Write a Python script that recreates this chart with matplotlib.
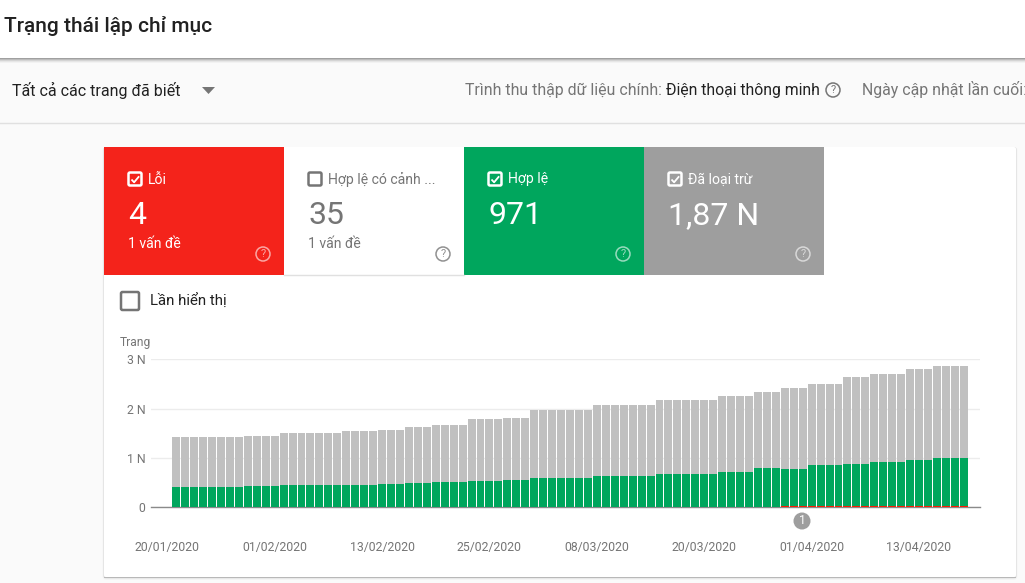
"""Search Console index coverage card, drawn with matplotlib."""
import numpy as np
import matplotlib
matplotlib.use('Agg')
import matplotlib.pyplot as plt
from matplotlib.patches import Rectangle, FancyBboxPatch, Circle, Polygon

plt.rcParams['font.family'] = ['Roboto', 'Noto Sans', 'DejaVu Sans']

# Pages per day
errors = [
    0, 0, 0, 0, 0, 0, 0, 0, 0, 0, 0, 0, 0, 0, 0, 0, 0, 0, 0, 0, 0, 0, 0, 0, 0, 0, 0, 0, 0, 0,
    0, 0, 0, 0, 0, 0, 0, 0, 0, 0, 0, 0, 0, 0, 0, 0, 0, 0, 0, 0, 0, 0, 0, 0, 0, 0, 0, 0, 0, 0,
    0, 0, 0, 0, 0, 0, 0, 0, 25, 25, 25, 25, 25, 25, 25, 25, 25, 25, 25, 25, 25, 25, 25, 25, 25,
    25, 25, 25, 25,
]
valid = [
    420, 420, 420, 420, 420, 420, 420, 420,
    440, 440, 440, 440,
    460, 460, 460, 460, 460, 460, 460,
    460, 460, 460, 460,
    480, 480, 480,
    500, 500, 500,
    520, 520, 520, 520,
    540, 540, 540, 540,
    560, 560, 560,
    600, 600, 600, 600, 600, 600, 600,
    640, 640, 640, 640, 640, 640, 640,
    680, 680, 680, 680, 680, 680, 680,
    720, 720, 720, 720,
    805, 805, 805,
    760, 760, 760,
    840, 840, 840, 840,
    860, 860, 860,
    900, 900, 900, 900,
    940, 940, 940,
    980, 980, 980, 980,
]
excluded = [
    1000, 1000, 1000, 1000, 1000, 1000, 1000, 1000,
    1000, 1000, 1000, 1000,
    1040, 1040, 1040, 1040, 1040, 1040, 1040,
    1080, 1080, 1080, 1080,
    1087, 1087, 1087,
    1120, 1120, 1120,
    1150, 1150, 1150, 1150,
    1244, 1244, 1244, 1244,
    1240, 1240, 1240,
    1373, 1373, 1373, 1373, 1373, 1373, 1373,
    1428, 1428, 1428, 1428, 1428, 1428, 1428,
    1490, 1490, 1490, 1490, 1490, 1490, 1490,
    1537, 1537, 1537, 1537,
    1525, 1525, 1525,
    1625, 1625, 1625,
    1625, 1625, 1625, 1625,
    1750, 1750, 1750,
    1771, 1771, 1771, 1771,
    1831, 1831, 1831,
    1851, 1851, 1851, 1851,
]
date_ticks = [-1, 11, 23, 35, 47, 59, 71, 83]
date_labels = ['20/01/2020', '01/02/2020', '13/02/2020', '25/02/2020',
               '08/03/2020', '20/03/2020', '01/04/2020', '13/04/2020']
y_ticks = [0, 1000, 2000, 3000]
y_labels = ['0', '1 N', '2 N', '3 N']

RED = '#f4231b'
GREEN = '#00a65d'
GREY = '#9e9e9e'
BAR_GREY = '#c0c0c0'
TEXT_GREY = '#757575'
W, H = 1025, 583


def px(size):
    # CSS pixels to points at dpi 100
    return size * 0.72


def help_icon(ax, x, y, color, alpha=1.0, r=7, size=11):
    ax.add_patch(Circle((x, y), r, fill=False, ec=color, lw=1.1, alpha=alpha))
    ax.text(x, y + 0.3, '?', color=color, alpha=alpha, fontsize=px(size),
            ha='center', va='center')


def checkbox(ax, x, y, size, edge, checked=False, lw=1.8):
    ax.add_patch(FancyBboxPatch((x, y), size, size, boxstyle='round,pad=0,rounding_size=1.5',
                                fill=False, ec=edge, lw=lw))
    if checked:
        ax.plot([x + 3, x + 5.6, x + 10.6], [y + 7, y + 9.8, y + 3.8],
                color=edge, lw=1.3, solid_capstyle='butt')


fig = plt.figure(figsize=(W / 100, H / 100), dpi=100, facecolor='#fafafa')

# page furniture, in pixel coordinates
page = fig.add_axes([0, 0, 1, 1])
page.set_xlim(0, W)
page.set_ylim(H, 0)
page.axis('off')

page.add_patch(Rectangle((0, 0), W, 58, fc='white', ec='none'))
for i, c in enumerate(['#a0a0a0', '#bcbcbc', '#d4d4d4', '#e6e6e6', '#f2f2f2']):
    page.add_patch(Rectangle((0, 58 + i), W, 1, fc=c, ec='none'))
page.plot([0, W], [122.5, 122.5], color='#e0e0e0', lw=1)
page.text(4, 26, 'Trạng thái lập chỉ mục', fontsize=px(20.9), fontweight='medium',
          color='#212121', va='center')
page.text(12, 90, 'Tất cả các trang đã biết', fontsize=px(16), color='#212121', va='center')
page.add_patch(Polygon([(202, 87), (215, 87), (208.5, 94)], fc=TEXT_GREY, ec='none'))
page.text(465, 90, 'Trình thu thập dữ liệu chính:', fontsize=px(15.9), color=TEXT_GREY,
          va='center')
page.text(666, 90, 'Điện thoại thông minh', fontsize=px(15.8), color='#212121', va='center')
help_icon(page, 833, 90, TEXT_GREY)
page.text(862, 90, 'Ngày cập nhật lần cuối:', fontsize=px(15.9), color=TEXT_GREY, va='center',
          clip_on=True)

# card with soft shadow
for grow, c in [(2.5, '#f0f0f0'), (1.5, '#e2e2e2')]:
    page.add_patch(FancyBboxPatch((104 - grow / 2, 147), 912 + grow, 430 + grow,
                                  boxstyle='round,pad=0,rounding_size=3', fc=c, ec='none'))
page.add_patch(Rectangle((104, 576.5), 912, 1.2, fc='#b8b8b8', ec='none'))
page.add_patch(FancyBboxPatch((104, 147), 912, 430, boxstyle='round,pad=0,rounding_size=2',
                              fc='white', ec='none'))

# status tiles
tile_x = [104, 284, 464, 644]
tile_bg = [RED, 'white', GREEN, GREY]
tile_fg = ['white', TEXT_GREY, 'white', 'white']
tile_name = ['Lỗi', 'Hợp lệ có cảnh ...', 'Hợp lệ', 'Đã loại trừ']
tile_value = ['4', '35', '971', '1,87 N']
tile_note = ['1 vấn đề', '1 vấn đề', '', '']
tile_checked = [True, False, True, True]
for x0, bg, fg, name, value, note, chk in zip(tile_x, tile_bg, tile_fg, tile_name,
                                              tile_value, tile_note, tile_checked):
    page.add_patch(Rectangle((x0, 147), 180, 128, fc=bg, ec='none'))
    checkbox(page, x0 + 24.5, 172.5, 13, fg, chk)
    page.text(x0 + 44, 179.5, name, fontsize=px(14), color=fg, va='center')
    page.text(x0 + 24, 215.5, value, fontsize=px(32), color=fg, va='center')
    if note:
        page.text(x0 + 24, 243.5, note, fontsize=px(14), color=fg, va='center')
    help_icon(page, x0 + 159, 254, fg, alpha=0.6 if fg == 'white' else 0.8)
page.plot([284, 464], [274.8, 274.8], color='#e0e0e0', lw=1)

checkbox(page, 121, 292, 18, TEXT_GREY, lw=1.8)
page.text(150, 301, 'Lần hiển thị', fontsize=px(15), color='#212121', va='center')
page.text(120, 342.5, 'Trang', fontsize=px(12), color=TEXT_GREY, va='center')

# issue marker under the chart
page.add_patch(Circle((802, 521), 8.5, fc=GREY, ec='none'))
page.text(802, 521, '1', color='white', fontsize=px(12), ha='center', va='center')

# stacked bars
ax = fig.add_axes([151 / W, 1 - 507.3 / H, 829 / W, 148 / H])
ax.patch.set_alpha(0)
days = np.arange(len(valid))
errors = np.array(errors)
valid = np.array(valid)
excluded = np.array(excluded)
ax.bar(days, errors, width=0.89, color='#ff1a00', lw=0, zorder=3)
ax.bar(days, valid, width=0.89, bottom=errors, color=GREEN, lw=0, zorder=3)
ax.bar(days, excluded, width=0.89, bottom=errors + valid, color=BAR_GREY, lw=0, zorder=3)

ax.set_xlim((151 - 176.2) / 8.95, (980 - 176.2) / 8.95)
ax.set_ylim(0, 3000)
ax.set_yticks(y_ticks, y_labels)
ax.set_xticks(date_ticks, date_labels)
ax.tick_params(axis='y', length=0, pad=4, labelsize=px(12.2), labelcolor=TEXT_GREY)
ax.tick_params(axis='x', length=0, pad=24, labelsize=px(12.2), labelcolor=TEXT_GREY)
ax.grid(True, axis='y', color='#ececec', lw=1, zorder=1)
for name in ['top', 'right', 'left']:
    ax.spines[name].set_visible(False)
ax.spines['bottom'].set_color('#8a8a8a')
ax.spines['bottom'].set_linewidth(1)

fig.savefig('out.png', dpi=100)
